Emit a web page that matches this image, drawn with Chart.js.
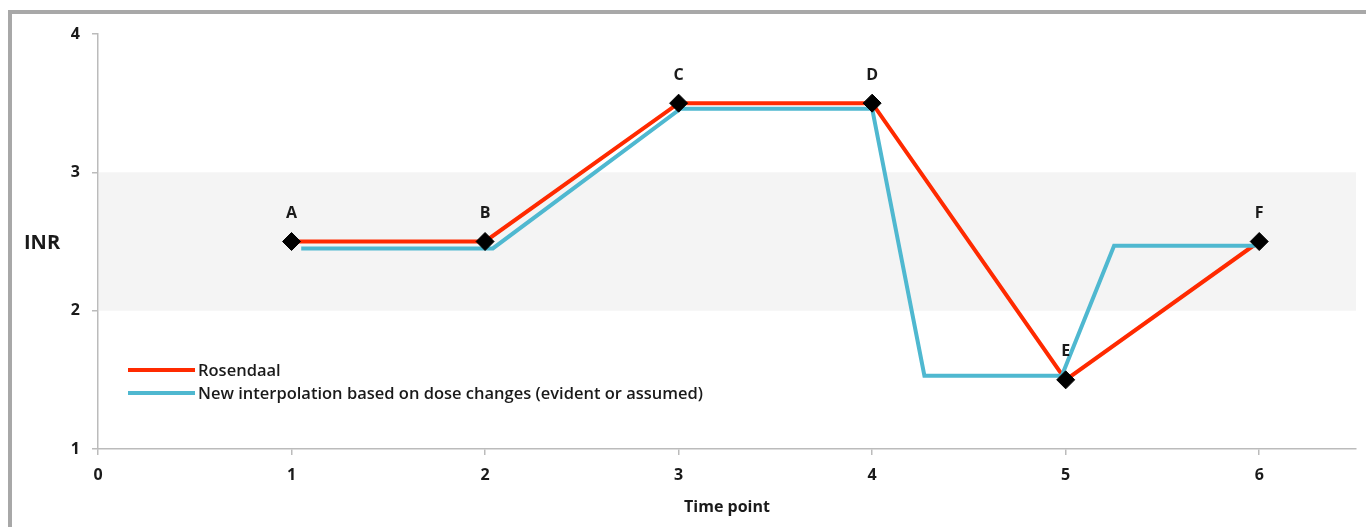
<!DOCTYPE html>
<html>
<head>
<meta charset="utf-8">
<script src="https://cdn.jsdelivr.net/npm/chart.js@4.4.1/dist/chart.umd.min.js"></script>
<style>
    html, body { margin: 0; padding: 0; background: #fff; overflow: hidden; }
    #frame {
        position: absolute; left: 8px; top: 10px; width: 1400px; height: 560px;
        border-left: 4px solid #a8a8a8; border-top: 4px solid #a8a8a8;
    }
    #wrap { position: absolute; left: 0; top: 0; width: 1366px; height: 527px; }
</style>
</head>
<body>
<div id="frame"></div>
<div id="wrap"><canvas id="inrChart" width="1366" height="527"></canvas></div>
<script>
// Rosendaal interpolation: the measured INR values
const timePoints = [1, 2, 3, 4, 5, 6];
const inrValues = [2.5, 2.5, 3.5, 3.5, 1.5, 2.5];
const pointNames = ['A', 'B', 'C', 'D', 'E', 'F'];

// New interpolation based on dose changes
const newX = [1.05, 2.04, 3.01, 4.0, 4.27, 4.98, 5.25, 5.98];
const newY = [2.45, 2.45, 3.46, 3.46, 1.53, 1.53, 2.47, 2.47];

// therapeutic range band
const targetRange = [2, 3];

const FONT = "'Open Sans', 'Liberation Sans', sans-serif";

function toXY(xs, ys) {
    return xs.map(function(x, i) { return { x: x, y: ys[i] }; });
}

// shaded range, INR label, point letters, legend
const extras = {
    id: 'extras',
    beforeDatasetsDraw(chart) {
        const ctx = chart.ctx, area = chart.chartArea;
        const y = chart.scales.y;
        const top = y.getPixelForValue(targetRange[1]);
        const bot = y.getPixelForValue(targetRange[0]);
        ctx.save();
        ctx.fillStyle = '#f4f4f4';
        ctx.fillRect(area.left + 1, top, area.right - area.left - 1, bot - top);
        ctx.restore();
    },
    afterDatasetsDraw(chart) {
        const ctx = chart.ctx;
        const xs = chart.scales.x, ys = chart.scales.y;
        ctx.save();
        ctx.fillStyle = '#1a1a1a';
        ctx.textAlign = 'center';
        ctx.textBaseline = 'middle';
        ctx.font = "bold 16px " + FONT;
        pointNames.forEach(function(n, i) {
            ctx.fillText(n, xs.getPixelForValue(timePoints[i]), ys.getPixelForValue(inrValues[i]) - 28);
        });

        // y title, horizontal
        ctx.font = "bold 20px " + FONT;
        ctx.textAlign = 'left';
        ctx.fillText('INR', 24, 243);

        // legend inside plot
        ctx.font = "600 16.5px " + FONT;
        chart.data.datasets.slice(0, 2).forEach(function(ds, i) {
            const ly = 370 + i * 23;
            ctx.strokeStyle = ds.borderColor;
            ctx.lineWidth = 4;
            ctx.beginPath();
            ctx.moveTo(128, ly);
            ctx.lineTo(195, ly);
            ctx.stroke();
            ctx.fillStyle = '#1a1a1a';
            ctx.fillText(ds.label, 198, ly + 1);
        });
        ctx.restore();
    }
};

new Chart(document.getElementById('inrChart').getContext('2d'), {
    type: 'scatter',
    data: {
        datasets: [{
            label: 'Rosendaal',
            data: toXY(timePoints, inrValues),
            showLine: true,
            borderColor: '#ff2a00',
            borderWidth: 4,
            pointRadius: 0,
            order: 2
        }, {
            label: 'New interpolation based on dose changes (evident or assumed)',
            data: toXY(newX, newY),
            showLine: true,
            borderColor: '#4fb8d0',
            borderWidth: 4,
            pointRadius: 0,
            order: 1
        }, {
            label: 'points',
            data: toXY(timePoints, inrValues),
            showLine: false,
            pointStyle: 'rectRot',
            pointRadius: 9,
            backgroundColor: '#000',
            borderColor: '#000',
            borderWidth: 1,
            order: 0
        }]
    },
    options: {
        responsive: false,
        animation: false,
        events: [],
        layout: { padding: { top: 34, right: 9, left: 0, bottom: 10 } },
        plugins: { legend: { display: false }, tooltip: { enabled: false } },
        scales: {
            x: {
                type: 'linear',
                min: 0,
                max: 6.5,
                afterBuildTicks: function(axis) {
                    axis.ticks = axis.ticks.filter(function(t) { return Number.isInteger(t.value); });
                },
                afterFit: function(axis) { axis.height = 68; },
                ticks: { stepSize: 1, color: '#1a1a1a', padding: 11, font: { family: FONT, size: 16, weight: 'bold' } },
                grid: { drawOnChartArea: false, drawTicks: true, tickLength: 6, color: '#bbbbbb', lineWidth: 1.5 },
                border: { color: '#bbbbbb', width: 1.5 },
                title: { display: true, text: 'Time point', color: '#1a1a1a', padding: { top: 4, bottom: 0 }, font: { family: FONT, size: 16, weight: 'bold' } }
            },
            y: {
                min: 1,
                max: 4,
                afterFit: function(axis) { axis.width = 98; },
                ticks: { stepSize: 1, color: '#1a1a1a', padding: 12, font: { family: FONT, size: 16, weight: 'bold' } },
                grid: { drawOnChartArea: false, drawTicks: true, tickLength: 6, color: '#bbbbbb', lineWidth: 1.5 },
                border: { color: '#bbbbbb', width: 1.5 }
            }
        }
    },
    plugins: [extras]
});
</script>
</body>
</html>
